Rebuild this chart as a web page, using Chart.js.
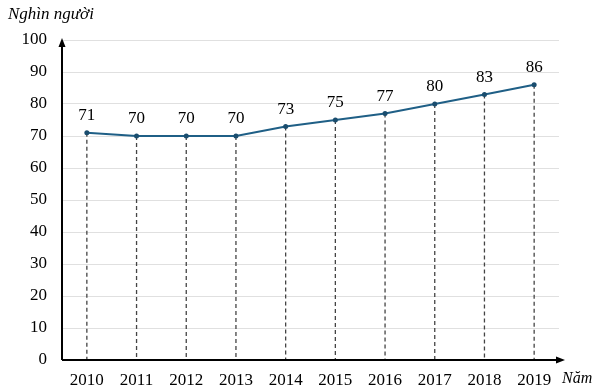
<!DOCTYPE html>
<html>
<head>
<meta charset="utf-8">
<script src="https://cdn.jsdelivr.net/npm/chart.js@4.4.0/dist/chart.umd.min.js"></script>
<style>
html,body{margin:0;padding:0;background:#fff;}
#wrap{position:relative;width:600px;height:392px;}
</style>
</head>
<body>
<div id="wrap"><canvas id="c" width="600" height="392"></canvas></div>
<script>
const years = ['2010','2011','2012','2013','2014','2015','2016','2017','2018','2019'];
const people = [71, 70, 70, 70, 73, 75, 77, 80, 83, 86];
const yTicks = [0, 10, 20, 30, 40, 50, 60, 70, 80, 90, 100];
const yTitle = 'Nghìn người';
const xTitle = 'Năm';

const SERIF = '"Liberation Serif", "Times New Roman", serif';

const decor = {
  id: 'decor',
  beforeDatasetsDraw(chart) {
    const ctx = chart.ctx;
    const y = chart.scales.y;
    const meta = chart.getDatasetMeta(0);
    ctx.save();
    ctx.strokeStyle = '#444';
    ctx.lineWidth = 1.3;
    ctx.setLineDash([4, 3]);
    meta.data.forEach(pt => {
      ctx.beginPath();
      ctx.moveTo(pt.x, pt.y);
      ctx.lineTo(pt.x, y.getPixelForValue(0));
      ctx.stroke();
    });
    ctx.restore();
  },
  afterDatasetsDraw(chart) {
    const ctx = chart.ctx;
    const a = chart.chartArea;
    const meta = chart.getDatasetMeta(0);
    ctx.save();
    ctx.strokeStyle = '#000';
    ctx.fillStyle = '#000';
    ctx.lineWidth = 2;
    ctx.beginPath();
    ctx.moveTo(a.left, a.bottom);
    ctx.lineTo(a.left, a.top + 4);
    ctx.moveTo(a.left, a.bottom);
    ctx.lineTo(a.right + 1, a.bottom);
    ctx.stroke();
    ctx.beginPath();
    ctx.moveTo(a.left, a.top - 2);
    ctx.lineTo(a.left - 3.5, a.top + 7);
    ctx.lineTo(a.left + 3.5, a.top + 7);
    ctx.closePath();
    ctx.fill();
    ctx.beginPath();
    ctx.moveTo(a.right + 6, a.bottom);
    ctx.lineTo(a.right - 3, a.bottom - 3.5);
    ctx.lineTo(a.right - 3, a.bottom + 3.5);
    ctx.closePath();
    ctx.fill();
    ctx.font = '17px ' + SERIF;
    ctx.textAlign = 'center';
    ctx.textBaseline = 'middle';
    meta.data.forEach((pt, i) => {
      ctx.fillText(String(people[i]), pt.x, pt.y - 17);
    });
    ctx.font = 'italic 17px ' + SERIF;
    ctx.textAlign = 'left';
    ctx.fillText(yTitle, 8, 15);
    ctx.font = 'italic 16px ' + SERIF;
    ctx.fillText(xTitle, 562, 379);
    ctx.restore();
  }
};

new Chart(document.getElementById('c'), {
  type: 'line',
  data: {
    labels: years,
    datasets: [{
      data: people,
      borderColor: '#1f5f86',
      backgroundColor: '#1f5f86',
      borderWidth: 2,
      pointRadius: 2.5,
      pointBackgroundColor: '#1a4d6e',
      pointBorderWidth: 0,
      tension: 0
    }]
  },
  options: {
    responsive: false,
    animation: false,
    layout: { padding: { top: 40, right: 41, left: 0, bottom: 0 } },
    plugins: { legend: { display: false }, tooltip: { enabled: false } },
    scales: {
      x: {
        offset: true,
        grid: { display: false, drawTicks: false },
        border: { display: false },
        ticks: { color: '#000', font: { family: SERIF, size: 17 }, padding: 10, maxRotation: 0 },
        afterFit(s) { s.height = 32; }
      },
      y: {
        min: 0, max: 100,
        afterBuildTicks(s) { s.ticks = yTicks.map(v => ({ value: v })); },
        grid: { color: '#e0e0e0', lineWidth: 1, drawTicks: false },
        border: { display: false },
        ticks: { color: '#000', font: { family: SERIF, size: 17 }, padding: 15 },
        afterFit(s) { s.width = 62; }
      }
    }
  },
  plugins: [decor]
});
</script>
</body>
</html>
